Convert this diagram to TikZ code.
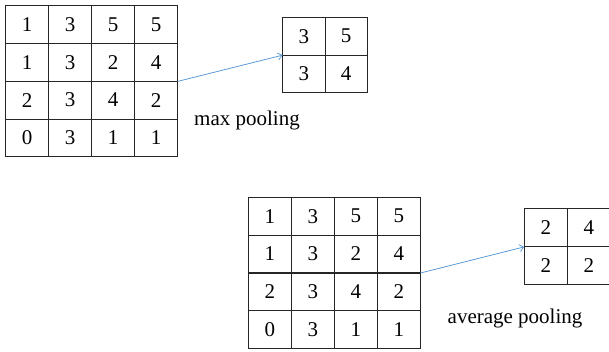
\documentclass[tikz,border=0pt]{standalone}
\usepackage{fontspec}
\setmainfont{Liberation Serif}
\usetikzlibrary{arrows.meta}
\definecolor{arrowblue}{RGB}{91,155,213}
\tikzset{
  cell/.style={rectangle, inner sep=0pt,
    minimum width=43pt, minimum height=37.75pt, font=\fontsize{21}{24}\selectfont},
  gridline/.style={draw=black!85, line width=1.1pt},
  arrowline/.style={draw=arrowblue, line width=0.8pt, -{Straight Barb[length=4pt,width=7pt]}},
  lbl/.style={anchor=base west, inner sep=0pt, font=\fontsize{21}{24}\selectfont}
}
\begin{document}
\begin{tikzpicture}[x=1pt,y=-1pt]
\useasboundingbox (0,0) rectangle (609,351);
% big grid 1
\foreach \r/\row in {1/{1,3,5,5},2/{1,3,2,4},3/{2,3,4,2},4/{0,3,1,1}}{
  \foreach \v [count=\c] in \row {
    \node[cell] (a-\r-\c) at ({5.5+43*(\c-0.5)},{5.7+37.75*(\r-0.5)}) {\v};
  }
}
\draw[gridline] (a-1-1.north west) rectangle (a-4-4.south east);
\foreach \k in {1,2,3}{
  \draw[gridline] (a-1-\k.north east) -- (a-4-\k.south east);
  \draw[gridline] (a-\k-1.south west) -- (a-\k-4.south east);
}
% small grid 1
\foreach \r/\row in {1/{3,5},2/{3,4}}{
  \foreach \v [count=\c] in \row {
    \node[cell, minimum width=42.3pt, minimum height=37.7pt] (b-\r-\c) at ({282.7+42.3*(\c-0.5)},{17.3+37.7*(\r-0.5)}) {\v};
  }
}
\draw[gridline] (b-1-1.north west) rectangle (b-2-2.south east);
\draw[gridline] (b-1-1.north east) -- (b-2-1.south east);
\draw[gridline] (b-1-1.south west) -- (b-1-2.south east);
% big grid 2
\foreach \r/\row in {1/{1,3,5,5},2/{1,3,2,4},3/{2,3,4,2},4/{0,3,1,1}}{
  \foreach \v [count=\c] in \row {
    \node[cell] (c-\r-\c) at ({248.3+43*(\c-0.5)},{197.3+37.75*(\r-0.5)}) {\v};
  }
}
\draw[gridline] (c-1-1.north west) rectangle (c-4-4.south east);
\foreach \k in {1,2,3}{
  \draw[gridline] (c-1-\k.north east) -- (c-4-\k.south east);
  \draw[gridline] (c-\k-1.south west) -- (c-\k-4.south east);
}
% small grid 2
\foreach \r/\row in {1/{2,4},2/{2,2}}{
  \foreach \v [count=\c] in \row {
    \node[cell, minimum height=37.7pt] (d-\r-\c) at ({524.3+43*(\c-0.5)},{209+37.7*(\r-0.5)}) {\v};
  }
}
\draw[gridline] (d-1-1.north west) rectangle (d-2-2.south east);
\draw[gridline] (d-1-1.north east) -- (d-2-1.south east);
\draw[gridline] (d-1-1.south west) -- (d-1-2.south east);
\draw[arrowline] (a-2-4.south east) -- (b-1-1.south west);
\draw[arrowline] (c-2-4.south east) -- (d-1-1.south west);
\node[lbl] (maxlbl) at (194,125) {max pooling};
\node[lbl] (avglbl) at (447.5,323.3) {average pooling};
\end{tikzpicture}
\end{document}
